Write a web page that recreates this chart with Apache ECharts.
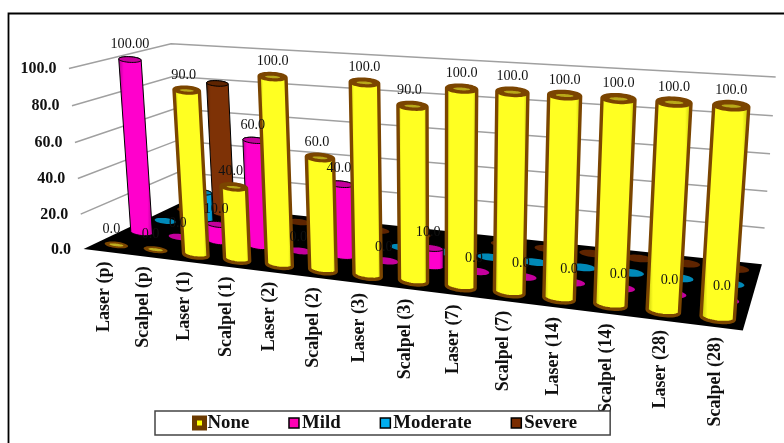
<!DOCTYPE html>
<html><head><meta charset="utf-8">
<style>html,body{margin:0;padding:0;background:#fff;overflow:hidden}#c{width:784px;height:443px}</style>
<script src="https://cdn.jsdelivr.net/npm/echarts@6/dist/echarts.min.js"></script>
</head><body><div id="c"></div>
<script>
const categories = ['Laser (p)','Scalpel (p)','Laser (1)','Scalpel (1)','Laser (2)','Scalpel (2)','Laser (3)','Scalpel (3)','Laser (7)','Scalpel (7)','Laser (14)','Scalpel (14)','Laser (28)','Scalpel (28)'];
const seriesNames = ['None','Mild','Moderate','Severe'];
const noneValues     = [0,0,90,40,100,60,100,90,100,100,100,100,100,100];
const mildValues     = [100,0,10,60,0,40,0,10,0,0,0,0,0,0];
const moderateValues = [0,20,0,0,0,0,0,0,0,0,0,0,0,0];
const severeValues   = [0,80,0,0,0,0,0,0,0,0,0,0,0,0];
const yTicks = [0,20,40,60,80,100];
const noneLabels = ['0.0','0.0','90.0','40.0','100.0','60.0','100.0','90.0','100.0','100.0','100.0','100.0','100.0','100.0'];
const mildLabels = ['100.00','0.0','10.0','60.0','0.0','40.0','0.0','10.0','0.0','0.0','0.0','0.0','0.0','0.0'];

const W = 784, H = 443;
// camera calibration: unit cube (u along categories, v into depth, z up) -> page pixels
const cu=i=>(i+0.5)/14, r0=0.125, r1=0.375, r2=0.625;
const ANCHORS=[
 [0,0,0,83,250,5],[1,0,0,742,332,5],[1,1,0,761,264,5],[0,1,0,182,205,2],
 [0,0,1,69,68,3],[0,1,1,170,43,3],[1,1,1,776,77,3],[0,0,0.2,81,215,2],[0,0,0.4,78,179,2],[0,0,0.6,75,143,2],[0,0,0.8,73,106,2],[1,1,0.6,770,154,2],
 [cu(4),r0,1,273,77,1],[cu(6),r0,1,365,83,1],[cu(8),r0,1,462,89,1],[cu(10),r0,1,564,96,1],[cu(12),r0,1,674,103,1],[cu(13),r0,1,730,107,1],
 [cu(0),r0,0,116,245,1],[cu(2),r0,0,195,249,1],[cu(4),r0,0,279,261,1],[cu(6),r0,0,367,273,1],[cu(8),r0,0,460,284,1],[cu(10),r0,0,559,296,1],[cu(12),r0,0,663,309,1],[cu(13),r0,0,717,316,1],
 [cu(0),r1,1,131,59,1],[cu(0),r1,0,141,233,1],[cu(4),r1,0,301,250,1],[cu(13),r1,0,735,302,1],[cu(0),r2,0,165,221,1]
];
function solveCamera(){
  const n=11,M=Array.from({length:n},()=>new Array(n+1).fill(0));
  const add=(row,rhs,w)=>{for(let i=0;i<n;i++){for(let j=0;j<n;j++)M[i][j]+=w*row[i]*row[j];M[i][n]+=w*row[i]*rhs;}};
  for(const [u,v,z,x,y,w] of ANCHORS){
    add([u,v,z,1,0,0,0,0,-x*u,-x*v,-x*z],x,w);
    add([0,0,0,0,u,v,z,1,-y*u,-y*v,-y*z],y,w);
  }
  for(let c=0;c<n;c++){
    let p=c;for(let r=c+1;r<n;r++)if(Math.abs(M[r][c])>Math.abs(M[p][c]))p=r;
    [M[c],M[p]]=[M[p],M[c]];
    for(let r=0;r<n;r++){if(r===c)continue;const f=M[r][c]/M[c][c];for(let k=c;k<=n;k++)M[r][k]-=f*M[c][k];}
  }
  return M.map((r,i)=>r[n]/r[i]);
}
const P=solveCamera();
function project(u,v,z){
  const w=P[8]*u+P[9]*v+P[10]*z+1;
  return [(P[0]*u+P[1]*v+P[2]*z+P[3])/w,(P[4]*u+P[5]*v+P[6]*z+P[7])/w];
}
// position on the hidden axes -> unit cube
function cube(api,cat,val){
  const c=api.coord([cat,val]);
  return {u:c[0]/W,z:1-c[1]/H};
}
function ellipse(c,rx,ry,phi){
  const pts=[];
  for(let i=0;i<40;i++){
    const t=i/40*Math.PI*2,x=rx*Math.cos(t),y=ry*Math.sin(t);
    pts.push([c[0]+x*Math.cos(phi)-y*Math.sin(phi),c[1]+x*Math.sin(phi)+y*Math.cos(phi)]);
  }
  return pts;
}
function hull(pts){
  const p=pts.slice().sort((a,b)=>a[0]-b[0]||a[1]-b[1]);
  const cr=(o,a,b)=>(a[0]-o[0])*(b[1]-o[1])-(a[1]-o[1])*(b[0]-o[0]);
  const lo=[],up=[];
  for(const q of p){while(lo.length>1&&cr(lo[lo.length-2],lo[lo.length-1],q)<=0)lo.pop();lo.push(q);}
  for(const q of p.slice().reverse()){while(up.length>1&&cr(up[up.length-2],up[up.length-1],q)<=0)up.pop();up.push(q);}
  return lo.slice(0,-1).concat(up.slice(0,-1));
}
const STYLES = {
  None:{edge:'#b4b400',mid:'#ffff22',stroke:'#7b4500',lw:3.4,top:'#7b4500',flat:'#7b4500',du:0.0215,ring:true},
  Mild:{edge:'#b00090',mid:'#ff00cc',stroke:'#000',lw:1,top:'#c4009c',flat:'#c4009c',du:0.0205},
  Moderate:{edge:'#006e96',mid:'#00a4dc',stroke:'#000',lw:1,top:'#0089b8',flat:'#0089b8',du:0.0205},
  Severe:{edge:'#4a1c00',mid:'#7e3206',stroke:'#000',lw:1,top:'#5e2400',flat:'#5e2400',du:0.0205}
};
function grad(edge,mid){
  return new echarts.graphic.LinearGradient(0,0,1,0,[{offset:0,color:edge},{offset:0.16,color:mid},{offset:0.84,color:mid},{offset:1,color:edge}]);
}
function barRender(row,name,labels){
  const s=STYLES[name];
  return function(params,api){
    const cat=api.value(0),val=api.value(1);
    const c=cube(api,cat,val);
    const v=(row+0.5)/4,u=c.u;
    const b=project(u,v,0),t=project(u,v,c.z);
    const bL=project(u-s.du,v,0),bR=project(u+s.du,v,0);
    const tL=project(u-s.du,v,c.z),tR=project(u+s.du,v,c.z);
    const rb=Math.hypot(bR[0]-bL[0],bR[1]-bL[1])/2,rt=Math.hypot(tR[0]-tL[0],tR[1]-tL[1])/2;
    const pb=Math.atan2(bR[1]-bL[1],bR[0]-bL[0]),pt=Math.atan2(tR[1]-tL[1],tR[0]-tL[0]);
    const z2=(3-row)*100+cat*5+10;
    const kids=[];
    if(val>0){
      const top=ellipse(t,rt,rt*0.25,pt),bot=ellipse(b,rb,rb*0.27,pb);
      kids.push({type:'polygon',z2:z2,shape:{points:hull(top.concat(bot))},
        style:{fill:grad(s.edge,s.mid),stroke:s.stroke,lineWidth:s.lw,lineJoin:'round'}});
      kids.push({type:'polygon',z2:z2+1,shape:{points:top},style:{fill:s.top,stroke:s.ring?s.stroke:'#000',lineWidth:s.ring?2:1}});
      if(s.ring)kids.push({type:'polygon',z2:z2+2,shape:{points:ellipse(t,rt*0.55,rt*0.09,pt)},style:{fill:'#b8a818'}});
    }else{
      kids.push({type:'polygon',z2:z2,shape:{points:ellipse(b,rb,rb*0.27,pb)},style:{fill:s.flat}});
      if(s.ring)kids.push({type:'polygon',z2:z2+1,shape:{points:ellipse(b,rb*0.6,rb*0.11,pb)},style:{fill:'#c0b020'}});
    }
    if(labels){
      let dx=0,dy=-15.5;
      if(row===0&&val<100)dx=val===0?-5:-3;
      if(row===1&&val<100){dx=-2;if(val===0)dy=-13.5;}
      kids.push({type:'text',z2:2000,x:t[0]+dx,y:t[1]+dy,style:{text:labels[cat],fill:'#111',
        font:'14.2px "Liberation Serif"',align:'center',verticalAlign:'middle'}});
    }
    return {type:'group',children:kids};
  };
}
const barValues=[noneValues,mildValues,moderateValues,severeValues];
const labelSets=[noneLabels,mildLabels,null,null];
const barSeries=seriesNames.map((name,row)=>({
  type:'custom',name:name,z:2,clip:false,silent:true,
  renderItem:barRender(row,name,labelSets[row]),
  data:barValues[row].map((x,i)=>[i,x]),
  encode:{x:0,y:1}
}));
const wallSeries={
  type:'custom',name:'walls',z:1,clip:false,silent:true,
  data:yTicks.map(t=>[0,t]),encode:{x:0,y:1},
  renderItem(params,api){
    const val=api.value(1),z=cube(api,0,val).z;
    const fl=project(0,0,z),bl=project(0,1,z),br=project(1,1,z);
    const kids=[];
    if(val>0)kids.push({type:'polyline',shape:{points:[fl,bl,br]},style:{stroke:'#a0a0a0',lineWidth:1.5,fill:null}});
    if(val===0)kids.push({type:'polygon',z2:5,shape:{points:[project(0,0,0),project(1,0,0),project(1,1,0),project(0,1,0)]},style:{fill:'#000'}});
    kids.push({type:'text',x:fl[0]-12.5,y:fl[1]+0.5,style:{text:val.toFixed(1),fill:'#111',font:'bold 16px "Liberation Serif"',align:'right',verticalAlign:'middle'}});
    return {type:'group',children:kids};
  }
};
const catLabelSeries={
  type:'custom',name:'categories',z:1,clip:false,silent:true,
  data:categories.map((n,i)=>[i,0]),encode:{x:0,y:1},
  renderItem(params,api){
    const cat=api.value(0),c=cube(api,cat,0),p=project(c.u,0,0);
    return {type:'text',rotation:Math.PI/2,x:p[0]+1,y:p[1]+10,style:{text:categories[cat],fill:'#111',font:'bold 18px "Liberation Serif"',align:'right',verticalAlign:'middle'}};
  }
};
const legendStyles=[
  {color:'#ffff00',borderColor:'#6b3a00',borderWidth:5},
  {color:'#ff00b4',borderColor:'#000',borderWidth:1.5},
  {color:'#00aeef',borderColor:'#000',borderWidth:1.5},
  {color:'#7a2c00',borderColor:'#000',borderWidth:1.5}
];
const chart=echarts.init(document.getElementById('c'),null,{renderer:'canvas',width:W,height:H});
chart.setOption({
  animation:false,backgroundColor:'#fff',
  grid:{left:0,top:0,width:W,height:H,show:false},
  xAxis:{type:'category',data:categories,show:false,boundaryGap:true},
  yAxis:{type:'value',min:0,max:100,interval:20,show:false},
  tooltip:{show:false},
  legend:{
    left:155,top:411,z:50,orient:'horizontal',padding:[2.5,33,2.5,37],itemGap:39,itemWidth:10,itemHeight:10,
    backgroundColor:'#fff',borderColor:'#444',borderWidth:1.5,selectedMode:false,
    textStyle:{fontFamily:'Liberation Serif',fontWeight:'bold',fontSize:18.8,color:'#111',padding:[0,0,0,-2]},
    data:seriesNames.map((n,i)=>({name:n,icon:'rect',itemStyle:legendStyles[i]}))
  },
  graphic:[{type:'polyline',z:0,shape:{points:[[8.5,H],[8.5,13.5],[W,13.5]]},style:{stroke:'#000',lineWidth:1.8,fill:null}}],
  series:[wallSeries,catLabelSeries].concat(barSeries)
});
</script></body></html>
